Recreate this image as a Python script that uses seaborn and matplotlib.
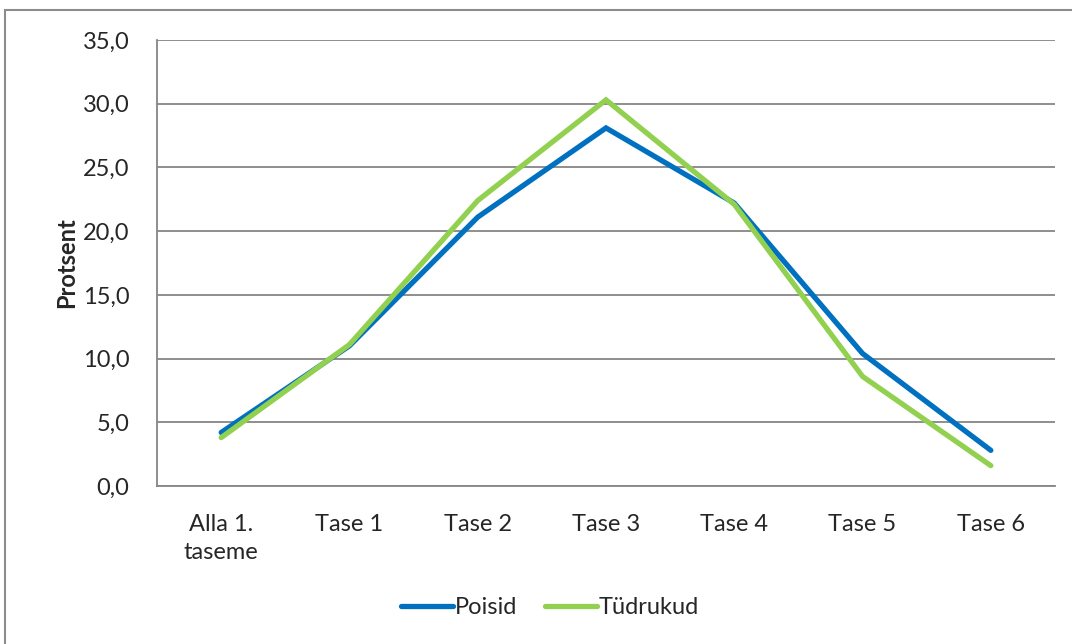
import matplotlib
matplotlib.use("Agg")
import matplotlib.pyplot as plt
import seaborn as sns
import pandas as pd
from matplotlib.ticker import FuncFormatter
from matplotlib.patches import Rectangle
from matplotlib.lines import Line2D

categories = ["Alla 1.\ntaseme", "Tase 1", "Tase 2", "Tase 3", "Tase 4", "Tase 5", "Tase 6"]
poisid = [4.2, 11.0, 21.1, 28.1, 22.2, 10.4, 2.8]
tudrukud = [3.8, 11.1, 22.4, 30.3, 22.1, 8.6, 1.6]
series_names = ["Poisid", "Tüdrukud"]
colors = ["#0070C0", "#92D050"]

df = pd.DataFrame({
    "pos": list(range(len(categories))) * 2,
    "value": poisid + tudrukud,
    "series": [series_names[0]] * len(categories) + [series_names[1]] * len(categories),
})

sns.set_theme(style="white")
plt.rcParams['font.family'] = ['Lato', 'DejaVu Sans']

fig = plt.figure(figsize=(10.72, 6.44), dpi=100)
ax = fig.add_axes([0.1465, 0.2453, 0.8376, 0.6926])

top = 1 - 10 / 644
fig.patches.append(Rectangle((5 / 1072, -0.01), 1.1, top + 0.01, transform=fig.transFigure,
                             fill=False, edgecolor="#8c8c8c", linewidth=1.5))

sns.lineplot(data=df, x="pos", y="value", hue="series", palette=colors,
             linewidth=3.8, ax=ax, legend=False, solid_capstyle="round",
             solid_joinstyle="miter")

ax.set_xlim(-0.5, len(categories) - 0.5)
ax.set_ylim(0, 35)
ax.set_yticks([0, 5, 10, 15, 20, 25, 30, 35])
ax.yaxis.set_major_formatter(FuncFormatter(lambda v, p: f"{v:.1f}".replace(".", ",")))
ax.set_xticks(range(len(categories)))
ax.set_xticklabels(categories, fontsize=17, linespacing=1.45)
ax.tick_params(axis="y", labelsize=17, length=0, pad=20)
ax.tick_params(axis="x", length=0, pad=20)
ax.grid(axis="y", color="#868686", linewidth=1.3)
ax.set_axisbelow(True)
for s in ["top", "right"]:
    ax.spines[s].set_visible(False)
for s in ["left", "bottom"]:
    ax.spines[s].set_color("#868686")
    ax.spines[s].set_linewidth(1.3)
ax.set_xlabel("")
ax.set_ylabel("Protsent", fontsize=17, fontweight="bold", labelpad=3)

handles = [Line2D([0], [0], color=c, linewidth=3.8, solid_capstyle="round") for c in colors]
fig.legend(handles, series_names, loc="center", bbox_to_anchor=(550 / 1072, 1 - 608 / 644),
           ncol=2, frameon=False, fontsize=17, handlelength=2.2, handletextpad=0.05,
           columnspacing=1.2)

fig.savefig("out.png", dpi=100)
